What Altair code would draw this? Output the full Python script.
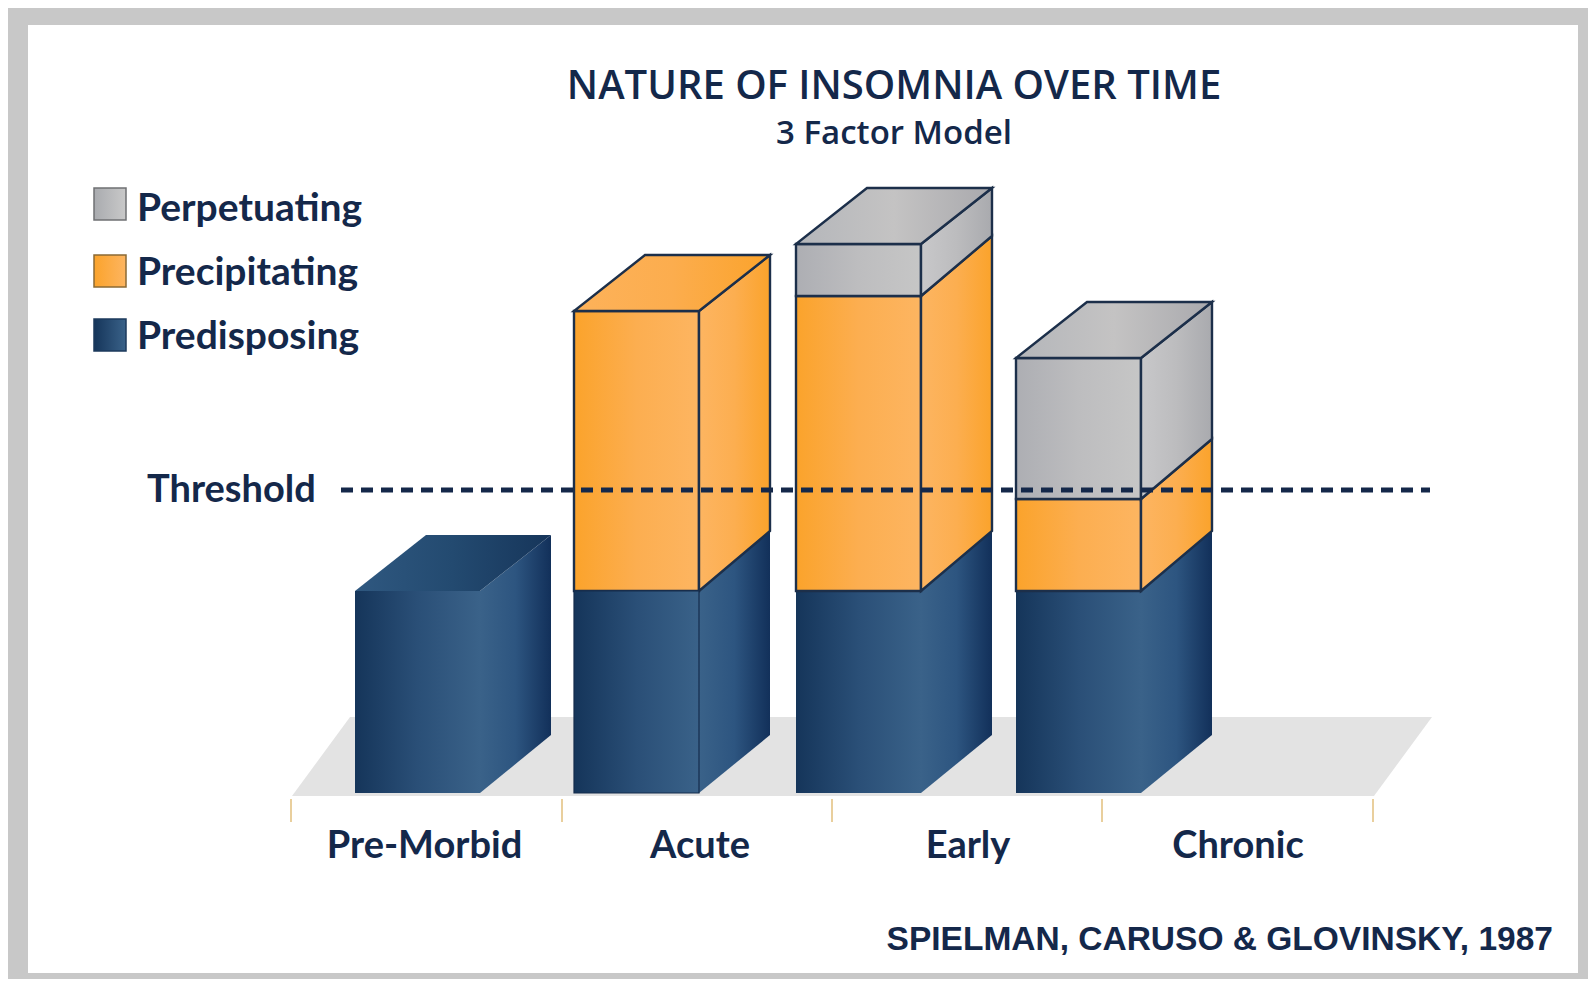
import altair as alt
import pandas as pd

# ---------- data ----------
stages = ["Pre-Morbid", "Acute", "Early", "Chronic"]
predisposing = [202, 202, 202, 202]
precipitating = [0, 280, 295, 92]
perpetuating = [0, 0, 52, 141]
threshold = [303]
legend_names = ["Perpetuating", "Precipitating", "Predisposing"]
title_text = "NATURE OF INSOMNIA OVER TIME"
subtitle_text = "3 Factor Model"
credit_text = "SPIELMAN, CARUSO & GLOVINSKY, 1987"

# ---------- layout ----------
W, H = 1580, 971
BASE = 793  # page y of the zero line
bar_left = [355, 574, 796, 1016]
bar_w = 125
dx, dy = 71, 56
dy_base, dy_inner = 58, 60
ink = "#14284a"
edge = "#1c2f4a"
label_font = "Lato"


def Y(page_y):
    return BASE - page_y


xs = alt.Scale(domain=[8, 8 + W], range=[0, W], nice=False, zero=False)
ys = alt.Scale(domain=[Y(8 + H), Y(8)], range=[H, 0], nice=False, zero=False)
X = lambda f="x": alt.X(f"{f}:Q", scale=xs, axis=None)
YY = lambda f="y": alt.Y(f"{f}:Q", scale=ys, axis=None)


def grad(*cols):
    n = len(cols) - 1
    return alt.Gradient(
        gradient="linear", x1=0, x2=1, y1=0, y2=0,
        stops=[alt.GradientStop(color=c, offset=i / n) for i, c in enumerate(cols)],
    )


palette = {
    "pre": dict(front=grad("#15355a", "#2a4f77", "#3a6289"),
                side=grad("#3a6289", "#2d5580", "#12305a"),
                top=grad("#2f5880", "#234a70", "#16355a")),
    "prc": dict(front=grad("#fba32b", "#fcae50", "#fdb561"),
                side=grad("#fdb561", "#fcae50", "#fba32b"),
                top=grad("#fdb25a", "#fcad4e", "#fba32b")),
    "per": dict(front=grad("#adaeb3", "#bdbdbf", "#c6c6c6"),
                side=grad("#c8c8ca", "#bcbcbe", "#a9aaae"),
                top=grad("#b4b6ba", "#c4c3c3", "#a9a9ad")),
}


def faces(seg, bottoms, heights, top_flags):
    front, side, top = [], [], []
    for i, st in enumerate(stages):
        h = heights[i]
        if h <= 0:
            continue
        b, t = bottoms[i], bottoms[i] + h
        x0 = bar_left[i]
        x1 = x0 + bar_w
        low_dy = dy_base if b == 0 else dy_inner
        high_dy = dy if top_flags[i] else dy_inner
        front += [dict(k=st, x=x0, y=b, y2=t), dict(k=st, x=x1, y=b, y2=t)]
        side += [dict(k=st, x=x1, y=b, y2=t), dict(k=st, x=x1 + dx, y=b + low_dy, y2=t + high_dy)]
        if top_flags[i]:
            top += [
                dict(k=st, x=x0, y=t, y2=t),
                dict(k=st, x=x0 + dx, y=t, y2=t + dy),
                dict(k=st, x=x1, y=t, y2=t + dy),
                dict(k=st, x=x1 + dx, y=t + dy, y2=t + dy),
            ]
    return dict(front=front, side=side, top=top)


def area_layer(rows, fill, stroke=None, sw=2.0):
    kw = dict(color=fill, interpolate="linear", opacity=1)
    if stroke:
        kw.update(stroke=stroke, strokeWidth=sw, strokeJoin="miter")
    return alt.Chart(pd.DataFrame(rows)).mark_area(**kw).encode(
        x=X(), y=YY(), y2=alt.Y2("y2:Q"), detail="k:N"
    )


zero = [0, 0, 0, 0]
mid = [a + b for a, b in zip(predisposing, precipitating)]
layers = []

# panel
layers.append(
    alt.Chart(pd.DataFrame([dict(x=28, x2=1578, y=Y(25), y2=Y(973))]))
    .mark_rect(color="#ffffff")
    .encode(x=X(), x2="x2:Q", y=YY(), y2="y2:Q")
)

# floor
floor = [
    dict(k="f", x=292, y=-3, y2=-3),
    dict(k="f", x=350, y=-3, y2=76),
    dict(k="f", x=1374, y=-3, y2=76),
    dict(k="f", x=1432, y=76, y2=76),
]
layers.append(area_layer(floor, "#e3e3e3"))

# ticks
layers.append(
    alt.Chart(pd.DataFrame(dict(x=[291, 562, 832, 1102, 1373], y=[Y(799)] * 5, y2=[Y(822)] * 5)))
    .mark_rule(color="#e9cf9d", strokeWidth=2)
    .encode(x=X(), y=YY(), y2="y2:Q")
)

# bars
pre = faces("pre", zero, predisposing, [p == 0 and q == 0 for p, q in zip(precipitating, perpetuating)])
prc = faces("prc", predisposing, precipitating, [q == 0 for q in perpetuating])
per = faces("per", mid, perpetuating, [True] * 4)
for name, fc, stroke, sw in [("pre", pre, None, 0), ("prc", prc, edge, 2.4), ("per", per, edge, 2.4)]:
    for f in ["front", "side", "top"]:
        if fc[f]:
            layers.append(area_layer(fc[f], palette[name][f], stroke, sw))

# thin outline of the Acute base
layers.append(
    area_layer([r for r in pre["front"] if r["k"] == "Acute"], palette["pre"]["front"], "#142c4c", 1.2)
)

# threshold
layers.append(
    alt.Chart(pd.DataFrame(dict(x=[341], x2=[1430], y=threshold)))
    .mark_rule(color=ink, strokeWidth=5, strokeDash=[12, 8])
    .encode(x=X(), x2="x2:Q", y=YY())
)

# legend swatches
sw_rows = [
    (188, 220, grad("#a9abaf", "#c9c9c9"), "#6f7073"),
    (255, 287, grad("#fba32b", "#fdb561"), "#8a6a35"),
    (319, 351, grad("#15355a", "#3a6289"), "#1d3a5c"),
]
for top, bot, g, st in sw_rows:
    layers.append(
        alt.Chart(pd.DataFrame([dict(x=94, x2=126, y=Y(top), y2=Y(bot))]))
        .mark_rect(color=g, stroke=st, strokeWidth=1.5)
        .encode(x=X(), x2="x2:Q", y=YY(), y2="y2:Q")
    )


def text_layer(rows, **kw):
    base = dict(baseline="middle", color=ink, font=label_font)
    base.update(kw)
    return alt.Chart(pd.DataFrame(rows)).mark_text(**base).encode(
        x=X(), y=YY(), text="t:N"
    )


layers.append(text_layer(
    [dict(t=n, x=137, y=Y(py)) for n, py in zip(legend_names, [209, 273, 337])],
    align="left", fontSize=39, fontWeight="bold"))
layers.append(text_layer([dict(t="Threshold", x=147, y=Y(491))],
                         align="left", fontSize=38, fontWeight="bold"))
layers.append(text_layer(
    [dict(t=s, x=cx, y=Y(847)) for s, cx in zip(stages, [424.5, 700, 968, 1238])],
    align="center", fontSize=38, fontWeight="bold"))
layers.append(text_layer([dict(t=title_text, x=894, y=Y(87))],
                         align="center", fontSize=40, fontWeight=600, font="Open Sans"))
layers.append(text_layer([dict(t=subtitle_text, x=894, y=Y(133.5))],
                         align="center", fontSize=33, fontWeight=600, font="Open Sans"))
layers.append(text_layer([dict(t=credit_text, x=1553, y=Y(940))],
                         align="right", fontSize=33.5, fontWeight="bold",
                         font="Liberation Sans", color="#14284a"))

chart = (
    alt.layer(*layers)
    .properties(width=W, height=H, padding=0, background="#c8c8c8")
    .configure_view(stroke=None)
)
chart.save("out.html", embed_options={"renderer": "svg", "actions": False})
